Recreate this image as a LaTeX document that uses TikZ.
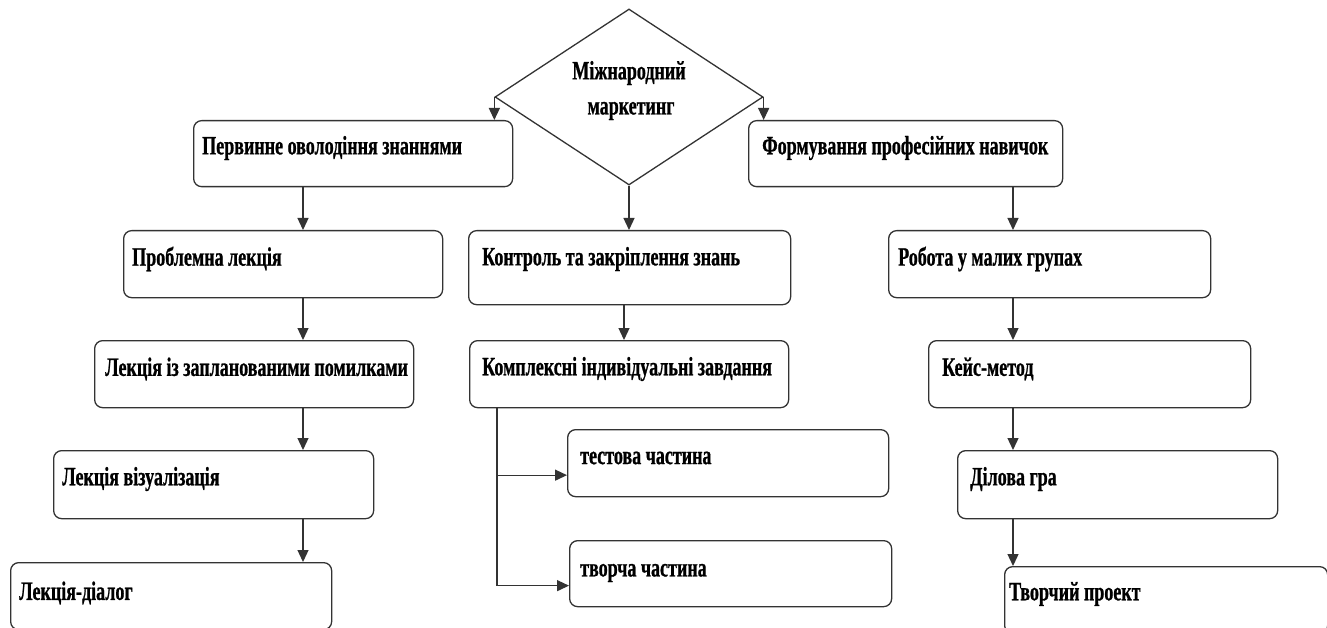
\documentclass[tikz,border=0pt]{standalone}
\usepackage{fontspec}
\setmainfont{Liberation Serif}[FakeStretch=0.68, BoldFeatures={FakeBold=0.8}]
\usetikzlibrary{arrows.meta,shapes.geometric}
\begin{document}
\begin{tikzpicture}[x=1pt,y=-1pt,
 box/.style={draw=black!80, line width=1.3pt, rounded corners=8pt, fill=white, minimum height=67pt, inner sep=0pt, anchor=north west},
 lbl/.style={anchor=west, inner sep=0pt, font=\fontsize{26.5}{26.5}\selectfont\bfseries},
 conn/.style={draw=black!80, line width=1.3pt, -{Triangle[length=12pt,width=11pt]}},
]
\useasboundingbox (0,0) rectangle (1327,628);
\clip (0,0) rectangle (1327,628);
\fill[white] (0,0) rectangle (1327,628);

% diamond
\node[diamond, draw=black!80, line width=1.3pt, minimum width=268pt, minimum height=176pt, inner sep=0pt] (dia) at (629,97) {};
\node[lbl, anchor=center] (dt1) at (629,73) {Міжнародний};
\node[lbl, anchor=center] (dt2) at (631,111) {маркетинг};

% boxes
\node[box, minimum width=319pt, minimum height=66pt] (b1) at (193,120) {};
\node[box, minimum width=314pt, minimum height=66pt] (f1) at (748,120) {};
\node[box, minimum width=319pt] (p2) at (123,230) {};
\node[box, minimum width=322pt, minimum height=74pt] (k2) at (468,230) {};
\node[box, minimum width=322pt] (r2) at (888,230) {};
\node[box, minimum width=319pt] (l3) at (94,340) {};
\node[box, minimum width=319pt] (c3) at (469,340) {};
\node[box, minimum width=322pt] (ke3) at (928,340) {};
\node[box, minimum width=320pt, minimum height=68pt] (v4) at (53,450) {};
\node[box, minimum width=321pt] (t4) at (567,429) {};
\node[box, minimum width=320pt, minimum height=68pt] (d4) at (957,450) {};
\node[box, minimum width=321pt] (ld5) at (10,562) {};
\node[box, minimum width=322pt, minimum height=66pt] (tv5) at (569,540) {};
\node[box, minimum width=323pt] (tp5) at (1004,566) {};

% labels
\node[lbl] (lb1) at ([xshift=9pt,yshift=-28pt]b1.north west) {Первинне оволодіння знаннями};
\node[lbl] (lf1) at ([xshift=14pt,yshift=-28pt]f1.north west) {Формування професійних навичок};
\node[lbl] (lp2) at ([xshift=9pt,yshift=-29pt]p2.north west) {Проблемна лекція};
\node[lbl] (lk2) at ([xshift=14pt,yshift=-29pt]k2.north west) {Контроль та закріплення знань};
\node[lbl] (lr2) at ([xshift=10pt,yshift=-29pt]r2.north west) {Робота у малих групах};
\node[lbl] (ll3) at ([xshift=11pt,yshift=-29pt]l3.north west) {Лекція із запланованими помилками};
\node[lbl] (lc3) at ([xshift=13pt,yshift=-29pt]c3.north west) {Комплексні індивідуальні завдання};
\node[lbl] (lke3) at ([xshift=14pt,yshift=-29pt]ke3.north west) {Кейс-метод};
\node[lbl] (lv4) at ([xshift=9pt,yshift=-29pt]v4.north west) {Лекція візуалізація};
\node[lbl] (lt4) at ([xshift=13pt,yshift=-29pt]t4.north west) {тестова частина};
\node[lbl] (ld4) at ([xshift=13pt,yshift=-29pt]d4.north west) {Ділова гра};
\node[lbl] (lld5) at ([xshift=9pt,yshift=-31pt]ld5.north west) {Лекція-діалог};
\node[lbl] (ltv5) at ([xshift=11pt,yshift=-33pt]tv5.north west) {творча частина};
\node[lbl] (ltp5) at ([xshift=5pt,yshift=-28pt]tp5.north west) {Творчий проект};

% connectors
\coordinate (lx) at (303,0);
\coordinate (rx) at (1013,0);
\coordinate (mx) at (624,0);
\coordinate (bx) at (497,0);
\draw[conn] (dia.west) -- (dia.west |- b1.north);
\draw[conn] (dia.east) -- (dia.east |- f1.north);
\draw[conn] (dia.south) -- (dia.south |- k2.north);
\draw[conn] (lx |- b1.south) -- (lx |- p2.north);
\draw[conn] (lx |- p2.south) -- (lx |- l3.north);
\draw[conn] (lx |- l3.south) -- (lx |- v4.north);
\draw[conn] (lx |- v4.south) -- (lx |- ld5.north);
\draw[conn] (rx |- f1.south) -- (rx |- r2.north);
\draw[conn] (rx |- r2.south) -- (rx |- ke3.north);
\draw[conn] (rx |- ke3.south) -- (rx |- d4.north);
\draw[conn] (rx |- d4.south) -- (rx |- tp5.north);
\draw[conn] (mx |- k2.south) -- (mx |- c3.north);
\draw[conn] (bx |- c3.south) |- ([yshift=-12pt]t4.west);
\draw[conn] (bx |- c3.south) |- ([yshift=-12pt]tv5.west);
\end{tikzpicture}
\end{document}
